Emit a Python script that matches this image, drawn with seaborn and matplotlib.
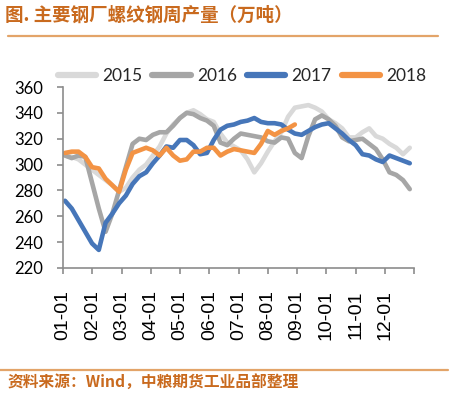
import numpy as np
import pandas as pd
import matplotlib
matplotlib.use("Agg")
import matplotlib.pyplot as plt
import seaborn as sns
from matplotlib.lines import Line2D

# ---- data (weekly) ----
years = ["2015", "2016", "2017", "2018"]
month_labels = ["01-01", "02-01", "03-01", "04-01", "05-01", "06-01",
                "07-01", "08-01", "09-01", "10-01", "11-01", "12-01"]

y2015 = [307, 306, 304, 300, 296, 292, 288, 284, 279, 282, 290, 296, 300,
         307, 314, 324, 331, 336, 340, 342, 339, 335, 333, 324, 317, 314,
         311, 304, 294, 301, 310, 318, 325, 337, 344, 345, 346, 344, 341,
         335, 332, 328, 321, 321, 325, 328, 322, 320, 316, 313, 308, 313]
y2016 = [307, 305, 307, 306, 286, 266, 248, 262, 280, 298, 316, 320, 319,
         323, 325, 325, 330, 336, 340, 339, 336, 334, 330, 317, 315, 320,
         324, 323, 322, 321, 318, 317, 321, 320, 309, 305, 322, 335, 338,
         335, 330, 321, 318, 319, 320, 316, 312, 304, 294, 292, 288, 281]
y2017 = [272, 266, 257, 248, 239, 234, 255, 262, 270, 276, 285, 291, 294,
         301, 307, 314, 313, 319, 319, 315, 308, 309, 319, 327, 330, 331,
         333, 334, 336, 333, 332, 332, 331, 327, 324, 323, 326, 329, 331,
         332, 328, 324, 319, 315, 308, 307, 304, 302, 307, 305, 303, 301]
y2018 = [309, 310, 310, 306, 298, 297, 289, 284, 279, 296, 309, 311, 313,
         311, 307, 313, 307, 303, 304, 310, 310, 313, 313, 307, 310, 312,
         311, 310, 309, 316, 326, 323, 326, 328, 331]

series = {"2015": y2015, "2016": y2016, "2017": y2017, "2018": y2018}
rows = []
for yr, vals in series.items():
    for w, v in enumerate(vals):
        rows.append({"week": w, "value": v, "year": yr})
df = pd.DataFrame(rows)

palette = {"2015": "#D9D9D9", "2016": "#A6A6A6", "2017": "#4676B9", "2018": "#F39344"}

sns.set_style("white")
plt.rcParams["font.family"] = ["Lato", "DejaVu Sans"]

W, H = 453, 398
fig = plt.figure(figsize=(W / 100, H / 100), dpi=100)
# axes: left 63px, right 414px, top 87px, bottom 268px
ax = fig.add_axes([63 / W, 1 - 268 / H, (414 - 63) / W, (268 - 87) / H])

sns.lineplot(data=df, x="week", y="value", hue="year", palette=palette,
             hue_order=years, linewidth=3.3, ax=ax, legend=False, sort=False)

px_per_week = 6.76
xl = (63 - 65) / px_per_week
xr = (414 - 65) / px_per_week
ax.set_xlim(xl, xr)
ax.set_ylim(220, 360)
ax.set_yticks(np.arange(220, 361, 20))
month_px = [63 + 29.25 * m for m in range(13)]
month_pos = [(p - 65) / px_per_week for p in month_px]
ax.set_xticks(month_pos)
ax.set_xticklabels(month_labels + [""], rotation=90, fontsize=14,
                   family=["Liberation Sans", "DejaVu Sans"])
for lab in ax.get_yticklabels():
    lab.set_fontsize(12)
ax.set_xlabel("")
ax.set_ylabel("")
for s in ["top", "right"]:
    ax.spines[s].set_visible(False)
for s in ["left", "bottom"]:
    ax.spines[s].set_color("#8C8C8C")
    ax.spines[s].set_linewidth(1.2)
ax.tick_params(axis="both", direction="out", length=4, width=1.2, color="#8C8C8C",
               left=True, bottom=True, labelcolor="black")
ax.tick_params(axis="y", pad=10)
ax.tick_params(axis="x", pad=12)

# legend
handles = [Line2D([0], [0], color=palette[y], lw=4.5) for y in years]
leg = fig.legend(handles, years, loc="center", bbox_to_anchor=(242 / W, 1 - 76 / H),
                 ncol=4, frameon=False, fontsize=12.5, handlelength=2.2,
                 columnspacing=0.6, handletextpad=0.35, borderpad=0.1)

# title and decorative lines
title_col = "#C96A1E"
fig.text(5 / W, 1 - 15 / H, "图. 主要钢厂螺纹钢周产量（万吨）", fontsize=13.3,
         fontweight="bold", color=title_col, va="center", ha="left",
         family=["Noto Sans CJK SC", "DejaVu Sans"])
fig.add_artist(Line2D([8 / W, 438 / W], [1 - 36 / H, 1 - 36 / H],
                      color="#E3A469", lw=1.6, transform=fig.transFigure))
fig.add_artist(Line2D([0 / W, 448 / W], [1 - 370 / H, 1 - 370 / H],
                      color="#E3A469", lw=1.6, transform=fig.transFigure))
fig.text(8 / W, 1 - 383 / H, "资料来源：Wind，中粮期货工业品部整理", fontsize=11.3,
         fontweight="bold", color=title_col, va="center", ha="left",
         family=["Noto Sans CJK SC", "DejaVu Sans"])

fig.savefig("out.png", dpi=100)
